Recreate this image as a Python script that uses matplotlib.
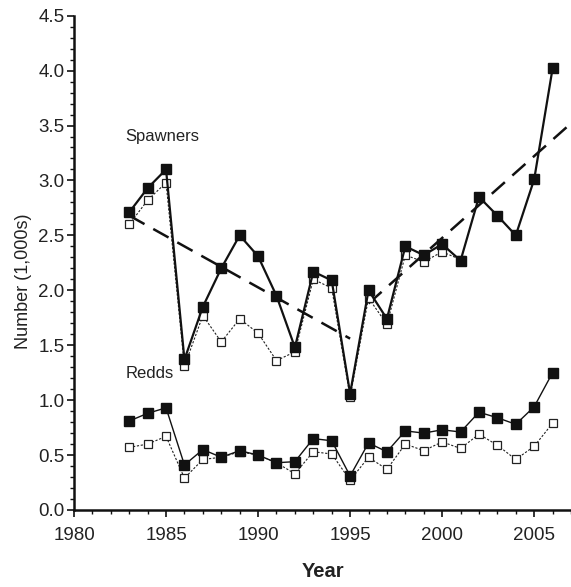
import matplotlib
matplotlib.use("Agg")
import matplotlib.pyplot as plt
from matplotlib.ticker import MultipleLocator, FormatStrFormatter

plt.rcParams['font.family'] = ['Liberation Sans', 'DejaVu Sans']

years = list(range(1983, 2007))

spawners_total = [2.71, 2.93, 3.10, 1.37, 1.85, 2.20, 2.50, 2.31, 1.95, 1.48,
                  2.17, 2.09, 1.06, 2.00, 1.74, 2.40, 2.32, 2.42, 2.27, 2.85,
                  2.68, 2.50, 3.01, 4.02]
spawner_years_sub = list(range(1983, 2002))
spawners_sub = [2.60, 2.82, 2.98, 1.31, 1.77, 1.53, 1.74, 1.61, 1.36, 1.44,
                2.10, 2.02, 1.03, 1.93, 1.69, 2.32, 2.26, 2.35, 2.28]

redds_total = [0.81, 0.88, 0.93, 0.41, 0.55, 0.48, 0.54, 0.50, 0.43, 0.44,
               0.65, 0.63, 0.31, 0.61, 0.53, 0.72, 0.70, 0.73, 0.71, 0.89,
               0.84, 0.78, 0.94, 1.25]
redds_sub = [0.57, 0.60, 0.67, 0.29, 0.46, 0.48, 0.53, 0.50, 0.43, 0.33,
             0.53, 0.51, 0.27, 0.48, 0.37, 0.60, 0.54, 0.62, 0.56, 0.69,
             0.59, 0.46, 0.58, 0.79]

trend1_x = [1983, 1995]
trend1_y = [2.68, 1.56]
trend2_x = [1996, 2007]
trend2_y = [1.88, 3.52]

fig = plt.figure(figsize=(5.71, 5.87), dpi=100)
ax = fig.add_axes([0.1296, 0.1312, 0.8704, 0.8421])

dash = (0, (7, 4))
ax.plot(trend1_x, trend1_y, color='#111111', lw=1.8, linestyle=dash, zorder=2)
ax.plot(trend2_x, trend2_y, color='#111111', lw=1.8, linestyle=dash, zorder=2)

ax.plot(spawner_years_sub, spawners_sub, color='#222222', lw=0.8, linestyle=(0, (2, 1.5)),
        marker='s', markersize=6, markerfacecolor='white', markeredgecolor='#222222',
        markeredgewidth=0.9, zorder=3)
ax.plot(years, spawners_total, color='#111111', lw=1.6, marker='s', markersize=6.5,
        markerfacecolor='#111111', markeredgecolor='#111111', zorder=4)

ax.plot(years, redds_sub, color='#222222', lw=0.8, linestyle=(0, (2, 1.5)),
        marker='s', markersize=6, markerfacecolor='white', markeredgecolor='#222222',
        markeredgewidth=0.9, zorder=3)
ax.plot(years, redds_total, color='#111111', lw=1.0, marker='s', markersize=6.5,
        markerfacecolor='#111111', markeredgecolor='#111111', zorder=4)

ax.text(1982.8, 3.40, 'Spawners', fontsize=12, va='center', ha='left', color='#222222')
ax.text(1982.8, 1.24, 'Redds', fontsize=12, va='center', ha='left', color='#222222')

ax.set_xlim(1980, 2007)
ax.set_ylim(0, 4.5)
ax.xaxis.set_major_locator(MultipleLocator(5))
ax.xaxis.set_minor_locator(MultipleLocator(1))
ax.yaxis.set_major_locator(MultipleLocator(0.5))
ax.yaxis.set_minor_locator(MultipleLocator(0.1))
ax.yaxis.set_major_formatter(FormatStrFormatter('%.1f'))

for side in ('top', 'right'):
    ax.spines[side].set_visible(False)
for side in ('left', 'bottom'):
    ax.spines[side].set_linewidth(1.8)
    ax.spines[side].set_color('#111111')

ax.tick_params(which='major', direction='out', length=5, width=1.2, labelsize=13.5,
               colors='#111111', labelcolor='#222222')
ax.tick_params(which='minor', direction='out', length=3, width=1.0, colors='#111111')
ax.tick_params(axis='x', which='major', pad=7)
ax.tick_params(axis='y', which='major', pad=2)

ax.set_xlabel('Year', fontsize=14.5, fontweight='bold', labelpad=13, color='#222222')
ax.set_ylabel('Number (1,000s)', fontsize=13, color='#222222')
ax.yaxis.set_label_coords(-0.084, 0.463)

fig.savefig('out.png', dpi=100)
